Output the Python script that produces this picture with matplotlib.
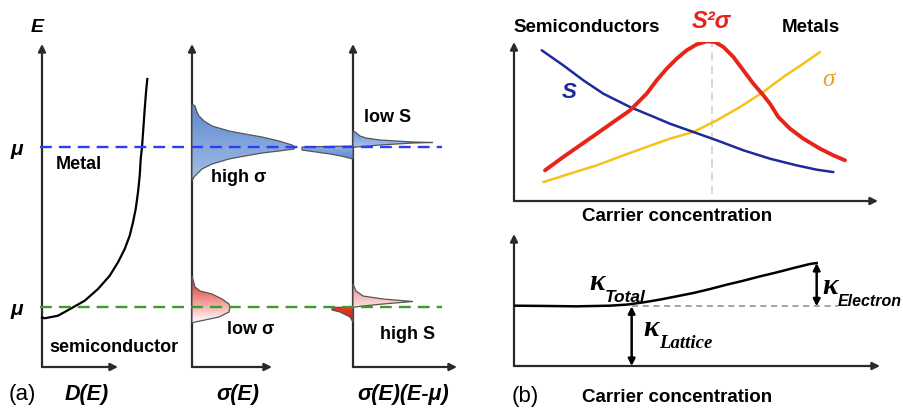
import numpy as np
import matplotlib
matplotlib.use("Agg")
import matplotlib.pyplot as plt
from matplotlib.patches import Polygon
from matplotlib.colors import LinearSegmentedColormap

# ---------------- data ----------------
# Panel (a): energy axis in arbitrary units (0 = bottom of axis)
mu_metal = 220
mu_semi = 60
# density of states D(E)
dos_E = [49.5, 48.7, 51.3, 58.7, 66.3, 78, 91.3, 104.7, 118, 131.3, 144.7, 158, 174.7, 191.3, 208, 219.7, 238, 258, 278, 288]
dos_D = [0, 2.7, 16, 29.3, 42.7, 56, 67.7, 76, 82.7, 87.7, 91, 93.7, 96, 97.7, 98.7, 100, 101.3, 102.7, 104.3, 105.3]
# sigma(E), metal (blue)
sig_metal_E = [263, 261, 255, 251, 246, 241, 236, 233, 230, 226, 222, 220, 218, 216, 214, 211, 208, 203, 198, 190, 186]
sig_metal_W = [0, 3, 5, 7, 12, 20, 37, 53, 70, 87, 100, 103, 102, 87, 70, 53, 37, 20, 10, 2, 0]
# sigma(E), semiconductor (red)
sig_semi_E = [91, 80, 76, 73, 68, 63, 60, 55, 50, 47, 45, 44]
sig_semi_W = [0, 3, 8, 20, 30, 37, 38, 37, 27, 13, 3, 0]
# sigma(E)(E-mu), metal: positive and negative lobes
sem_metal_pos_E = [236, 235, 231, 229, 227, 226, 225, 224.5, 224, 222, 220, 219.5]
sem_metal_pos_W = [0, 2, 7, 13, 27, 43, 60, 80, 60, 27, 3, 0]
sem_metal_neg_E = [221, 220, 217, 215, 213, 211, 208]
sem_metal_neg_W = [0, -51, -51, -37, -23, -12, 0]
# sigma(E)(E-mu), semiconductor
sem_semi_pos_E = [83, 76, 71, 68, 65.5, 63, 61, 60, 59.5]
sem_semi_pos_W = [0, 3, 10, 30, 60, 30, 10, 2, 0]
sem_semi_neg_E = [60, 59.5, 57, 55, 50, 45]
sem_semi_neg_W = [0, -21, -21, -13, -3, 0]

# Panel (b) top: normalized carrier concentration vs property
pf_x = [0.0852, 0.1355, 0.1813, 0.2271, 0.2729, 0.3187, 0.3645, 0.3920, 0.4194, 0.4469, 0.4744,
        0.5019, 0.5293, 0.5522, 0.5751, 0.6026, 0.6300, 0.6575, 0.6850, 0.7033, 0.7262, 0.7582,
        0.7949, 0.8407, 0.8773, 0.9093]
pf_y = [0.193, 0.277, 0.350, 0.423, 0.497, 0.570, 0.675, 0.759, 0.832, 0.895, 0.948,
        0.985, 1.004, 1.000, 0.969, 0.906, 0.822, 0.738, 0.665, 0.612, 0.528, 0.455,
        0.392, 0.329, 0.287, 0.256]
S_x = [0.0760, 0.1355, 0.1905, 0.2454, 0.3187, 0.3736, 0.4286, 0.4927, 0.5568, 0.6300, 0.7033,
       0.7766, 0.8315, 0.8773]
S_y = [0.948, 0.853, 0.759, 0.675, 0.591, 0.539, 0.486, 0.434, 0.382, 0.319, 0.266,
       0.224, 0.197, 0.182]
sig_x = [0.0806, 0.1538, 0.2271, 0.3004, 0.3645, 0.4286, 0.4927, 0.5568, 0.6209, 0.6850, 0.7399,
         0.7949, 0.8407]
sig_y = [0.119, 0.172, 0.224, 0.287, 0.340, 0.392, 0.434, 0.507, 0.591, 0.686, 0.780,
         0.864, 0.937]
pf_peak_x = 0.544

# Panel (b) bottom: thermal conductivity
kt_x = [0.0, 0.0801, 0.1712, 0.2623, 0.3078, 0.3533, 0.3989, 0.4444, 0.4900, 0.5355, 0.5810,
        0.6266, 0.6721, 0.7177, 0.7632, 0.8087, 0.8270]
kt_y = [0.457, 0.455, 0.452, 0.457, 0.465, 0.482, 0.503, 0.528, 0.553, 0.583, 0.616,
        0.646, 0.679, 0.709, 0.742, 0.773, 0.780]
k_lattice = 0.452
k_lattice_x = 0.3215

# ---------------- figure ----------------
W, H = 904, 410
fig = plt.figure(figsize=(W / 100, H / 100), dpi=100)
fig.patch.set_facecolor("white")

def add_px_axes(x0, ytop, x1, ybot, zorder=1):
    ax = fig.add_axes([x0 / W, 1 - ybot / H, (x1 - x0) / W, (ybot - ytop) / H], zorder=zorder)
    ax.set_axis_off()
    ax.patch.set_alpha(0)
    return ax

ov = add_px_axes(0, 0, W, H, zorder=5)
ov.set_xlim(0, W)
ov.set_ylim(H, 0)

SANS = "Liberation Sans"
SERIF = "Liberation Serif"
AXC = "#2a2a2a"

def arrow(ax, x0, y0, x1, y1, lw=1.6, style='-|>', ms=11, color=AXC):
    ax.annotate('', xy=(x1, y1), xytext=(x0, y0),
                arrowprops=dict(arrowstyle=style, lw=lw, color=color,
                                mutation_scale=ms, shrinkA=0, shrinkB=0),
                annotation_clip=False)

def grad_fill(ax, xs, ys, c1, c2, edge="#555555", z=3):
    verts = np.column_stack([xs, ys])
    poly = Polygon(verts, closed=True, facecolor='none', edgecolor=edge, lw=0.9, zorder=z + 0.1)
    ax.add_patch(poly)
    cmap = LinearSegmentedColormap.from_list('g', [c1, c2])
    xmin, xmax = min(xs), max(xs)
    ymin, ymax = min(ys), max(ys)
    grad = np.linspace(1, 0, 64).reshape(-1, 1)
    im = ax.imshow(grad, extent=[xmin, xmax, ymin, ymax], origin='lower',
                   aspect='auto', cmap=cmap, vmin=0, vmax=1, zorder=z)
    fill_poly = Polygon(verts, closed=True, transform=ax.transData)
    im.set_clip_path(fill_poly)

def lobe(E, Wd, x0):
    E = np.asarray(E, float)
    Wd = np.asarray(Wd, float)
    xs = np.concatenate([x0 + Wd, [x0, x0]])
    ys = np.concatenate([E, [E[-1], E[0]]])
    return xs, ys

# ---------------- panel (a) ----------------
axa = add_px_axes(0, 45, 460, 368, zorder=2)
axa.set_xlim(0, 460)
axa.set_ylim(0, 323)
cols = [42, 192, 353]
col_end = [118, 272, 457]
for c, ce in zip(cols, col_end):
    arrow(axa, c, 0, c, 323)
    arrow(axa, c, 0, ce, 0)

axa.plot([40, 442], [mu_metal, mu_metal], color="#2b3ff0", lw=1.7, dashes=(5, 3), zorder=6)
axa.plot([40, 442], [mu_semi, mu_semi], color="#3f9a2c", lw=1.7, dashes=(5, 3), zorder=6)

axa.plot(cols[0] + np.asarray(dos_D), dos_E, color="black", lw=1.6, zorder=4,
         solid_joinstyle='round')

xs, ys = lobe(sig_metal_E, sig_metal_W, cols[1])
grad_fill(axa, xs, ys, "#5f88cf", "#a2bfe8")
xs, ys = lobe(sem_metal_pos_E, sem_metal_pos_W, cols[2])
grad_fill(axa, xs, ys, "#6e96d6", "#a9c4ea")
xs, ys = lobe(sem_metal_neg_E, sem_metal_neg_W, cols[2])
grad_fill(axa, xs, ys, "#8eb0e2", "#5f88cf")

xs, ys = lobe(sig_semi_E, sig_semi_W, cols[1])
grad_fill(axa, xs, ys, "#e02418", "#ffffff")
xs, ys = lobe(sem_semi_pos_E, sem_semi_pos_W, cols[2])
grad_fill(axa, xs, ys, "#f08a8a", "#fde3e3")
xs, ys = lobe(sem_semi_neg_E, sem_semi_neg_W, cols[2])
grad_fill(axa, xs, ys, "#e83a2a", "#d01810")

# text of panel (a)
bi = dict(fontfamily=SANS, fontweight='bold', fontstyle='italic', color='black', ha='center', va='center')
b = dict(fontfamily=SANS, fontweight='bold', color='black', ha='center', va='center')
ov.text(37, 27, "E", fontsize=14, **bi)
ov.text(17, 150, "μ", fontsize=15, **bi)
ov.text(17, 310, "μ", fontsize=15, **bi)
ov.text(79, 165, "Metal", fontsize=13, **b)
ov.text(114, 348, "semiconductor", fontsize=13, **b)
ov.text(239, 178, "high σ", fontsize=13, **b)
ov.text(251, 330, "low σ", fontsize=13, **b)
ov.text(388, 118, "low S", fontsize=13, **b)
ov.text(408, 335, "high S", fontsize=13, **b)
ov.text(22, 395, "(a)", fontsize=16, fontfamily=SANS, ha='center', va='center', color='black')
ov.text(87, 395, "D(E)", fontsize=15.5, **bi)
ov.text(238, 395, "σ(E)", fontsize=15.5, **bi)
ov.text(403, 395, "σ(E)(E-μ)", fontsize=15.5, **bi)

# ---------------- panel (b) top ----------------
axt = add_px_axes(514, 43, 878, 202, zorder=2)
axt.set_xlim(0, 1)
axt.set_ylim(0, 1)
arrow(axt, 0, 0, 0, 1.0)
arrow(axt, 0, 0, 1.0, 0)
axt.plot([pf_peak_x, pf_peak_x], [0.045, 1.0], color="#cfcfcf", lw=1.2, dashes=(5, 3), zorder=2)
axt.plot(sig_x, sig_y, color="#f5c21b", lw=1.8, zorder=3, solid_capstyle='round', solid_joinstyle='round')
axt.plot(S_x, S_y, color="#1d2a9a", lw=1.8, zorder=4, solid_capstyle='round', solid_joinstyle='round')
axt.plot(pf_x, pf_y, color="#e8241a", lw=2.8, zorder=5, solid_capstyle='round', solid_joinstyle='round')

ov.text(587, 27, "Semiconductors", fontsize=13.5, **b)
ov.text(811, 27, "Metals", fontsize=13.5, **b)
ov.text(711, 22, "S²σ", fontsize=17, fontfamily=SANS, fontweight='bold', fontstyle='italic',
        color="#e8241a", ha='center', va='center')
ov.text(569, 92, "S", fontsize=16, fontfamily=SANS, fontweight='bold', fontstyle='italic',
        color="#1d2a9a", ha='center', va='center')
ov.text(828, 80, "σ", fontsize=18, fontfamily=SERIF, fontstyle='italic',
        color="#f0a020", ha='center', va='center')
ov.text(677, 217, "Carrier concentration", fontsize=13.5, **b)

# ---------------- panel (b) bottom ----------------
axk = add_px_axes(514, 235, 880, 367, zorder=2)
axk.set_xlim(0, 1)
axk.set_ylim(0, 1)
arrow(axk, 0, 0, 0, 1.0)
arrow(axk, 0, 0, 1.0, 0)
axk.plot([k_lattice_x, 0.885], [k_lattice, k_lattice], color="#8a8a8a", lw=1.1, dashes=(4, 3), zorder=2)
axk.plot(kt_x, kt_y, color="black", lw=1.8, zorder=3, solid_joinstyle='round')
arrow(axk, k_lattice_x, 0.0, k_lattice_x, k_lattice, lw=1.8, style='<|-|>', ms=10, color='black')
arrow(axk, kt_x[-1], k_lattice, kt_x[-1], kt_y[-1], lw=1.8, style='<|-|>', ms=10, color='black')

def kappa(x, y, sub, subfam, subsize=12.5):
    t = ov.text(x, y, "κ", fontsize=21, fontfamily=SERIF, fontstyle='italic', fontweight='bold',
                color='black', ha='left', va='baseline')
    ov.annotate(sub, xy=(1, 0), xycoords=t, xytext=(0.5, -4), textcoords='offset points',
                fontsize=subsize, fontfamily=subfam, fontweight='bold', fontstyle='italic',
                ha='left', va='baseline', color='black')

kappa(589, 290, "Total", SANS)
kappa(643, 336, "Lattice", SERIF, 13.5)
kappa(822, 294, "Electron", SANS, 11.5)

ov.text(525, 397, "(b)", fontsize=16, fontfamily=SANS, ha='center', va='center', color='black')
ov.text(677, 398, "Carrier concentration", fontsize=13.5, **b)

fig.savefig("out.png", dpi=100, facecolor="white")
